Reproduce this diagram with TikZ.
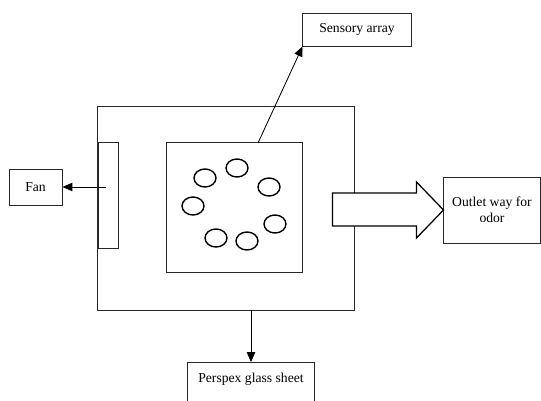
\documentclass[tikz,border=0pt]{standalone}
\usepackage{fontspec}
\setmainfont{Liberation Serif}
\usetikzlibrary{positioning, calc, arrows.meta}
\definecolor{edgegray}{RGB}{40,40,40}
\tikzset{
  labelbox/.style={draw=edgegray, line width=0.7pt, fill=white, align=center,
    font=\fontsize{9.7}{11.5}\selectfont, inner sep=1pt},
  chamber/.style={draw=edgegray, line width=0.7pt},
  sensorcell/.style={draw=black, line width=1pt},
  flowarrow/.style={draw=black, line width=0.6pt, -{Triangle[length=7pt, width=6pt]}},
  outletarrow/.style={draw=black, line width=0.9pt, fill=white}
}

\begin{document}
\begin{tikzpicture}[x=0.025cm, y=-0.025cm]
  \useasboundingbox (0,0) rectangle (541,401);
  % enclosure
  \node[chamber, minimum width=6.4cm, minimum height=5.075cm, inner sep=0] (outer) at (226,208.5) {};
  \node[chamber, minimum width=3.375cm, minimum height=3.225cm, inner sep=0] (inner) at (234.5,207.5) {};
  \node[chamber, minimum width=0.5cm, minimum height=2.625cm, inner sep=0] (panel) at (108,195.5) {};
  % sensors
  \foreach \cx/\cy in {205/178, 237/168, 269/187, 193/206, 275/224, 216/238, 247/241}{
    \draw[sensorcell] (\cx,\cy) ellipse [x radius=11, y radius=9];
  }
  % labels
  \node[labelbox, minimum width=1.325cm, minimum height=0.9cm] (fan) at (35.5,187) {Fan};
  \node[labelbox, minimum width=2.7cm, minimum height=0.825cm] (sensor) at (357,29.5) {Sensory array};
  \node[labelbox, minimum width=2.4cm, minimum height=1.65cm] (outlet) at (492,210) {Outlet way for\\odor};
  \node[labelbox, minimum width=3.15cm, anchor=north, text height=0.25cm, text depth=0.55cm,
        inner ysep=0.25cm] (glass) at (251,362) {Perspex glass sheet};
  % connectors
  \coordinate (fanout) at (106,187);
  \coordinate (sensout) at (258,143);
  \coordinate (glassout) at (251,310);
  \draw[flowarrow] (fanout) -- (fan.east);
  \draw[flowarrow] (sensout) -- (sensor.south west);
  \draw[flowarrow] (glassout) -- (glass.north);
  \draw[outletarrow] (outlet.west) -- ++(-27,-28) -- ++(0,11) -- ++(-84,0) -- ++(0,33)
    -- ++(84,0) -- ++(0,12) -- cycle;
\end{tikzpicture}
\end{document}
